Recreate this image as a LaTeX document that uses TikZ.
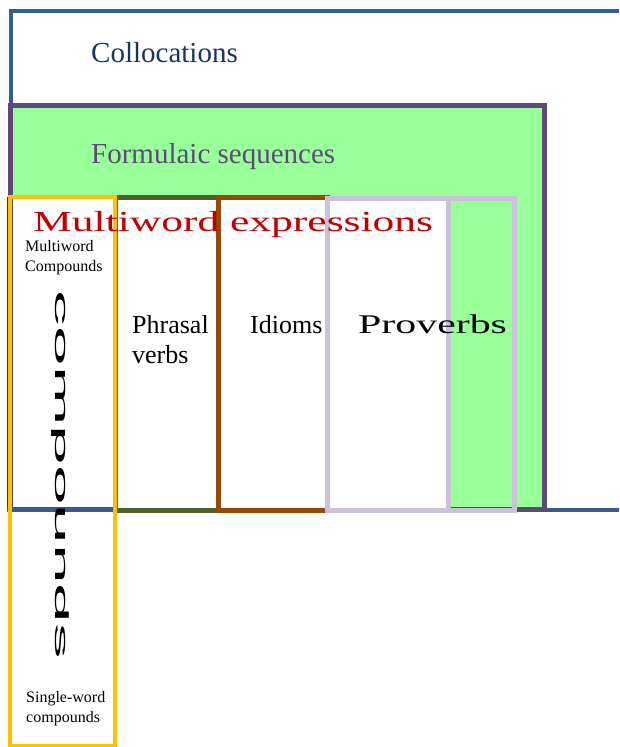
\documentclass[tikz,border=0pt]{standalone}
\usepackage{fontspec}
\setmainfont{Liberation Serif}
\newfontfamily\widesans{Liberation Sans}
\usepackage{graphicx}
\usepackage{tikz}
\definecolor{collblue}{HTML}{385D8A}
\definecolor{colltext}{HTML}{17375E}
\definecolor{formline}{HTML}{5F497A}
\definecolor{formfill}{HTML}{99FF99}
\definecolor{mwered}{HTML}{C00000}
\definecolor{compyellow}{HTML}{FFC000}
\definecolor{phrasolive}{HTML}{4F6228}
\definecolor{idiombrown}{HTML}{984807}
\definecolor{provlav}{HTML}{CCC1DA}

\begin{document}
\begin{tikzpicture}[x=1pt,y=-1pt,
  boxline/.style={line width=5pt},
  txt/.style={anchor=base west,inner sep=0pt},
  big/.style={font=\fontsize{29}{34}\selectfont},
  mid/.style={font=\fontsize{26}{30}\selectfont},
  small/.style={font=\fontsize{16}{19.5}\selectfont,align=left}]
\useasboundingbox (0,0) rectangle (619,747);

% formulaic sequences area and the white top of the compounds column
\fill[formfill] (10.5,105.5) rectangle (544.5,509.5);
\fill[white] (10,196.5) rectangle (115,510);
\draw[mwered,line width=1.2pt] (7.5,198) rectangle (514,510);

% collocations frame, runs off the right edge
\draw[collblue,line width=4pt] (619,11) -- (10.5,11) -- (10.5,509.5) -- (619,509.5);
\draw[formline,boxline] (10.5,105.5) rectangle (544.5,509.5);
\draw[collblue,line width=4pt] (7,509.5) -- (113,509.5);

% the columns
\draw[phrasolive,boxline,fill=white] (115,197.5) rectangle (218.5,510.5);
\draw[idiombrown,boxline,fill=white] (218.5,197.5) rectangle (327.5,510.5);
\draw[provlav,boxline] (327.5,198) rectangle (514,510);
\draw[provlav,boxline,fill=white] (327.5,198) rectangle (448.5,510);
\draw[compyellow,line width=4pt] (10,196.5) rectangle (115,745.5);

% labels (base west of a two-line node sits on its last line)
\node[txt,big,text=colltext] (coll) at (91,62) {Collocations};
\node[txt,big,text=formline] (form) at (91,163) {Formulaic sequences};
\node[txt,text=mwered,font=\fontsize{29}{34}\selectfont] (mwe) at (33,231)
  {\scalebox{1.5}[1]{Multiword expressions}};
\node[txt,small] (mwcomp) at (25,271) {Multiword\\Compounds};
\node[txt,mid,align=left] (phrasal) at (132,363) {Phrasal\\verbs};
\node[txt,mid] (idioms) at (250,333) {Idioms};
\node[txt,font=\fontsize{27}{30}\selectfont] (proverbs) at (358,333)
  {\scalebox{1.55}[1]{Proverbs}};
\node[txt,small] (swcomp) at (26,722) {Single-word\\compounds};
\node[rotate=-90,inner sep=0pt,font=\widesans\fontsize{19}{23}\selectfont] (compvert)
  at (60.5,475) {\scalebox{3.75}[1]{compounds}};
\end{tikzpicture}
\end{document}
